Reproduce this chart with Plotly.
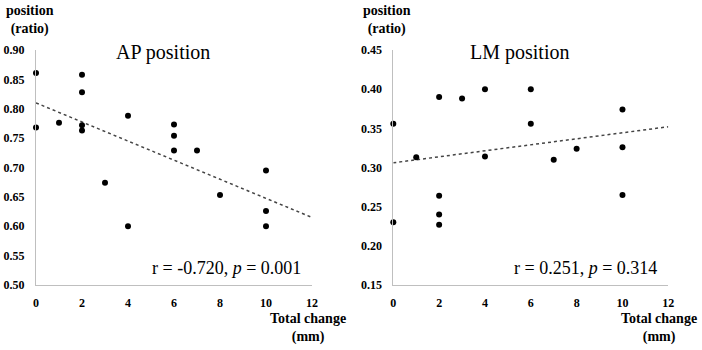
import plotly.graph_objects as go

# ---- data ----
ap_x = [0, 0, 1, 2, 2, 2, 2, 3, 4, 4, 6, 6, 6, 7, 8, 10, 10, 10]
ap_y = [0.861, 0.768, 0.776, 0.858, 0.828, 0.772, 0.763, 0.674, 0.788, 0.600,
        0.773, 0.754, 0.729, 0.729, 0.653, 0.695, 0.626, 0.600]

lm_x = [0, 0, 1, 2, 2, 2, 2, 3, 4, 4, 6, 6, 7, 8, 10, 10, 10]
lm_y = [0.356, 0.230, 0.313, 0.390, 0.264, 0.240, 0.227, 0.388, 0.400, 0.314,
        0.400, 0.356, 0.310, 0.324, 0.374, 0.326, 0.265]

trend_x = [0, 12]
ap_trend = [0.810, 0.615]
lm_trend = [0.306, 0.352]

x_ticks = [0, 2, 4, 6, 8, 10, 12]
ap_ticks = [0.50, 0.55, 0.60, 0.65, 0.70, 0.75, 0.80, 0.85, 0.90]
lm_ticks = [0.15, 0.20, 0.25, 0.30, 0.35, 0.40, 0.45]

titles = ["AP position", "LM position"]
stats = ["r = -0.720, <i>p</i> = 0.001", "r = 0.251, <i>p</i> = 0.314"]

SERIF = "Liberation Serif"
AXC = "#bfbfbf"

W, H = 702, 350


def px(x):
    return x / W


def py(y):
    return 1 - y / H


fig = go.Figure()

for i, (xs, ys, tr) in enumerate([(ap_x, ap_y, ap_trend), (lm_x, lm_y, lm_trend)]):
    xa = "x" if i == 0 else "x2"
    ya = "y" if i == 0 else "y2"
    fig.add_trace(go.Scatter(x=trend_x, y=tr, mode="lines", xaxis=xa, yaxis=ya,
                             line=dict(color="#444444", width=1.5, dash="dot"),
                             showlegend=False, hoverinfo="skip"))
    fig.add_trace(go.Scatter(x=xs, y=ys, mode="markers", xaxis=xa, yaxis=ya,
                             marker=dict(color="black", size=6),
                             cliponaxis=False, showlegend=False))

tickfont = dict(family=SERIF, size=12, color="black", weight="bold")


def xaxis(domain, anchor):
    return dict(domain=domain, anchor=anchor, range=[0, 12], tickvals=x_ticks,
                showline=True, linecolor=AXC, linewidth=1, showgrid=False,
                zeroline=False, ticks="", ticklabelstandoff=7, tickfont=tickfont,
                automargin=False)


def yaxis(domain, anchor, rng, tv):
    return dict(domain=domain, anchor=anchor, range=rng, tickvals=tv,
                tickformat=".2f", showline=True, linecolor=AXC, linewidth=1,
                showgrid=False, zeroline=False, ticks="", ticklabelstandoff=8,
                tickfont=tickfont, automargin=False)


ydom = [py(285), py(50)]
fig.update_layout(
    width=W, height=H,
    margin=dict(l=0, r=0, t=0, b=0, autoexpand=False),
    paper_bgcolor="white", plot_bgcolor="white",
    font=dict(family=SERIF),
    xaxis=xaxis([px(36), px(312)], "y"),
    yaxis=yaxis(ydom, "x", [0.50, 0.90], ap_ticks),
    xaxis2=xaxis([px(393.3), px(668.3)], "y2"),
    yaxis2=yaxis(ydom, "x2", [0.15, 0.45], lm_ticks),
)

ann = []
for i in range(2):
    xr = "x domain" if i == 0 else "x2 domain"
    yr = "y domain" if i == 0 else "y2 domain"
    left = 36 if i == 0 else 393.3
    xlab = 307.5 if i == 0 else 659
    ann.append(dict(text=titles[i], xref=xr, yref=yr, x=0.46, y=0.99,
                    xanchor="center", yanchor="middle", showarrow=False,
                    font=dict(family=SERIF, size=20, color="black")))
    ann.append(dict(text=stats[i], xref=xr, yref=yr, x=0.967, y=0.072,
                    xanchor="right", yanchor="middle", showarrow=False,
                    font=dict(family=SERIF, size=18, color="black")))
    ann.append(dict(text="position<br>(ratio)", xref="paper", yref="paper",
                    x=px(left - 6), y=py(20), xanchor="center",
                    yanchor="middle", showarrow=False, align="center",
                    font=dict(family=SERIF, size=14, color="black", weight="bold")))
    ann.append(dict(text="Total change<br>(mm)", xref="paper", yref="paper",
                    x=px(xlab), y=py(328), xanchor="center",
                    yanchor="middle", showarrow=False, align="center",
                    font=dict(family=SERIF, size=14, color="black", weight="bold")))
fig.update_layout(annotations=ann)

# remove the page's default 8px body margin so the figure sits at the window origin
fig.write_html("out.html", config={"displayModeBar": False},
               post_script="document.body.style.margin='0';")
